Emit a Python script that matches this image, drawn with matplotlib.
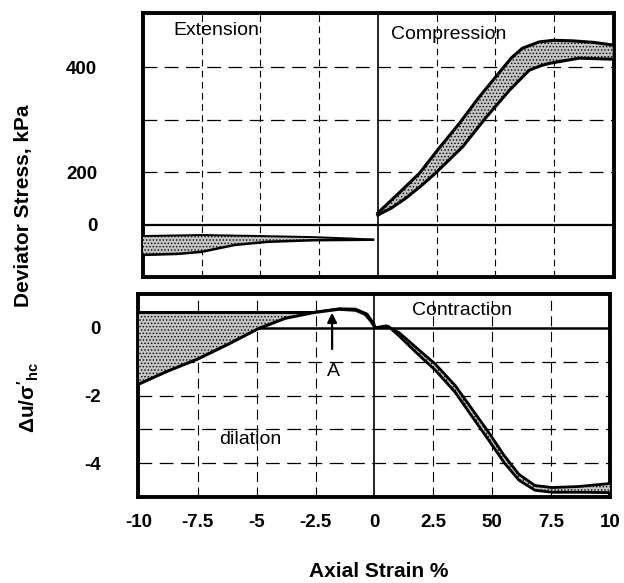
import numpy as np
import matplotlib.pyplot as plt

plt.rcParams['font.family'] = ['Liberation Sans', 'DejaVu Sans']
plt.rcParams['mathtext.fontset'] = 'custom'
plt.rcParams['mathtext.rm'] = 'Liberation Sans:bold'
plt.rcParams['mathtext.it'] = 'Liberation Sans:bold'
plt.rcParams['hatch.linewidth'] = 0.6
plt.rcParams['hatch.color'] = '#555555'

# --- deviator stress, compression band (axial strain %, kPa) ---
comp_up_x = [0.0, 0.9, 1.78, 2.6, 3.48, 4.3, 5.18, 5.7, 6.16, 6.88, 7.5, 8.28, 9.2, 10.0]
comp_up_q = [122, 160, 198, 245, 293, 342, 390, 418, 436, 448, 451, 450, 447, 442]
comp_lo_x = [0.0, 0.6, 1.19, 1.8, 2.46, 3.61, 4.59, 5.61, 6.45, 6.9, 7.3, 8.58, 10.0]
comp_lo_q = [118, 132, 150, 172, 198, 248, 303, 356, 394, 402, 407, 417, 415]

# --- deviator stress, extension band ---
ext_up_x = [-10.0, -7.5, -5.0, -2.76, -1.0, -0.2]
ext_up_q = [78, 80, 78, 76, 73, 71]
ext_lo_x = [-10.0, -8.5, -7.5, -6.1, -4.7, -2.76, -0.2]
ext_lo_q = [42, 44, 48, 61, 67, 70, 71]

# --- pore pressure ratio, extension side ---
dil_top = 0.46
dil_x = [-10.0, -8.75, -7.5, -6.2, -4.95, -3.8, -2.6, -1.5, -0.8, -0.4, -0.15, 0.0]
dil_u = [-1.66, -1.27, -0.92, -0.48, -0.03, 0.28, 0.45, 0.55, 0.52, 0.4, 0.2, 0.03]
peak_x = [-2.6, -1.5, -0.8, -0.3, 0.0, 0.05]
peak_u = [0.47, 0.58, 0.57, 0.42, 0.12, 0.0]

# --- pore pressure ratio, compression side ---
con_up_x = [0.0, 0.5, 1.06, 1.8, 2.58, 3.42, 4.14, 4.86, 5.5, 6.13, 6.81, 7.53, 8.67, 10.0]
con_up_u = [0.0, 0.06, -0.15, -0.6, -1.07, -1.7, -2.4, -3.1, -3.77, -4.33, -4.66, -4.72, -4.69, -4.6]
con_lo_x = [0.3, 0.6, 1.06, 1.8, 2.58, 3.42, 4.14, 4.86, 5.5, 6.13, 6.81, 7.53, 8.67, 10.0]
con_lo_u = [0.0, 0.04, -0.25, -0.75, -1.25, -1.9, -2.62, -3.33, -3.98, -4.5, -4.8, -4.86, -4.86, -4.87]

x_ticks = [-10, -7.5, -5, -2.5, 0, 2.5, 5, 7.5, 10]
x_labels = ['-10', '-7.5', '-5', '-2.5', '0', '2.5', '50', '7.5', '10']
# the original labels its reference line "0"
q_ticks = [100, 200, 400]
q_labels = ['0', '200', '400']
u_ticks = [0, -2, -4]
u_labels = ['0', '-2', '-4']

x_grid = [-7.5, -5, -2.5, 2.5, 5, 7.5]
q_grid = [200, 300, 400]
u_grid = [-1, -2, -3, -4]

fig = plt.figure(figsize=(6.24, 5.83), dpi=100)
ax1 = fig.add_axes([0.2292, 0.5249, 0.7548, 0.4528])
ax2 = fig.add_axes([0.2212, 0.1475, 0.7564, 0.3482])

band = dict(facecolor='#c4c4c4', hatch='.....', edgecolor='black', linewidth=0)
dash = (0, (11, 6))

# top panel
for g in q_grid:
    ax1.axhline(g, color='black', lw=0.9, ls=dash, zorder=1)
for g in x_grid:
    ax1.axvline(g, color='black', lw=0.8, ls=(0, (6, 4)), zorder=1)
ax1.axhline(100, color='black', lw=1.6, zorder=2)
ax1.axvline(0, color='black', lw=1.2, zorder=2)

ax1.fill(np.concatenate([comp_up_x, comp_lo_x[::-1]]),
         np.concatenate([comp_up_q, comp_lo_q[::-1]]), zorder=3, **band)
ax1.plot(comp_up_x, comp_up_q, color='black', lw=2.2, zorder=4)
ax1.plot(comp_lo_x, comp_lo_q, color='black', lw=2.2, zorder=4)
ax1.fill(np.concatenate([ext_up_x, ext_lo_x[::-1]]),
         np.concatenate([ext_up_q, ext_lo_q[::-1]]), zorder=3, **band)
ax1.plot(ext_up_x, ext_up_q, color='black', lw=1.4, zorder=4)
ax1.plot(ext_lo_x, ext_lo_q, color='black', lw=1.8, zorder=4)

ax1.set_xlim(-9.94, 10.06)
ax1.set_ylim(0, 503)
ax1.set_xticks(x_ticks)
ax1.set_xticklabels([])
ax1.set_yticks(q_ticks)
ax1.set_yticklabels(q_labels)
ax1.tick_params(length=0, labelsize=13.5, pad=33)
ax1.text(-8.7, 470, 'Extension', fontsize=14, va='center')
ax1.text(0.55, 462, 'Compression', fontsize=14, va='center')

# bottom panel
for g in u_grid:
    ax2.axhline(g, color='black', lw=0.9, ls=dash, zorder=1)
for g in x_grid:
    ax2.axvline(g, color='black', lw=0.8, ls=(0, (9, 5)), zorder=1)
ax2.axhline(0, color='black', lw=1.8, zorder=2)
ax2.axvline(0, color='black', lw=1.2, zorder=2)

dil_top_x = [-10.0, -2.6]
ax2.fill(np.concatenate([dil_top_x, dil_x[:7][::-1]]),
         np.concatenate([[dil_top, dil_top], dil_u[:7][::-1]]), zorder=3, **band)
ax2.plot(dil_top_x, [dil_top, dil_top], color='black', lw=2.2, zorder=4)
ax2.plot(dil_x, dil_u, color='black', lw=2.2, zorder=4)
ax2.plot(peak_x, peak_u, color='black', lw=1.2, zorder=4)

ax2.fill(np.concatenate([con_up_x, con_lo_x[::-1]]),
         np.concatenate([con_up_u, con_lo_u[::-1]]), zorder=3, **band)
ax2.plot(con_up_x, con_up_u, color='black', lw=2.0, zorder=4)
ax2.plot(con_lo_x, con_lo_u, color='black', lw=2.0, zorder=4)

ax2.annotate('', xy=(-1.8, 0.53), xytext=(-1.8, -0.71),
             arrowprops=dict(arrowstyle='-|>', color='black', lw=1.6,
                             mutation_scale=14), zorder=5)
ax2.text(-1.75, -1.3, 'A', fontsize=14, ha='center', va='center')
ax2.text(1.6, 0.5, 'Contraction', fontsize=14, va='center')
ax2.text(-6.6, -3.3, 'dilation', fontsize=14, va='center')

ax2.set_xlim(-10.04, 10.0)
ax2.set_ylim(-5.0, 1.0)
ax2.set_xticks(x_ticks)
ax2.set_xticklabels(x_labels)
ax2.set_yticks(u_ticks)
ax2.set_yticklabels(u_labels)
ax2.tick_params(axis='y', length=0, labelsize=13.5, pad=27)
ax2.tick_params(axis='x', length=0, labelsize=13.5, pad=12)

for ax in (ax1, ax2):
    for s in ax.spines.values():
        s.set_linewidth(2.8)
    for lab in ax.get_xticklabels() + ax.get_yticklabels():
        lab.set_fontweight('bold')

fig.text(0.037, 0.647, 'Deviator Stress, kPa', rotation=90, fontsize=15,
         fontweight='bold', ha='center', va='center')
fig.text(0.045, 0.319, r"$\Delta u/\sigma'_{hc}$", rotation=90, fontsize=15,
         ha='center', va='center')
fig.text(0.607, 0.019, 'Axial Strain %', fontsize=15, fontweight='bold',
         ha='center', va='center')

fig.savefig('out.png', dpi=100)
